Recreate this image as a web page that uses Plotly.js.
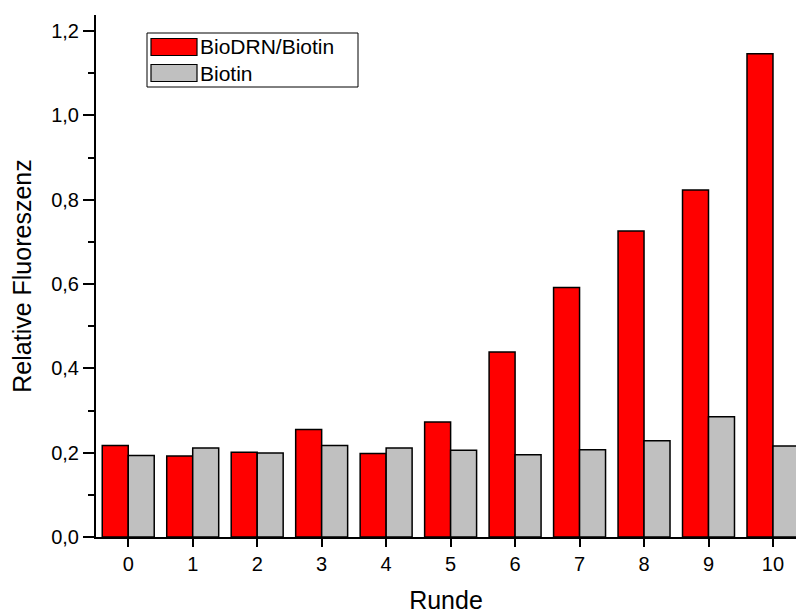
<!DOCTYPE html>
<html>
<head>
<meta charset="utf-8">
<script src="https://cdn.plot.ly/plotly-3.0.1.min.js"></script>
<style>html,body{margin:0;padding:0;background:#fff;}#chart{width:796px;height:614px;}</style>
</head>
<body>
<div id="chart"></div>
<script>
const rounds = [0, 1, 2, 3, 4, 5, 6, 7, 8, 9, 10];
const seriesNames = ["BioDRN/Biotin", "Biotin"];
const bioDRN = [0.217, 0.192, 0.201, 0.255, 0.198, 0.273, 0.439, 0.592, 0.726, 0.823, 1.146];
const biotin = [0.193, 0.211, 0.199, 0.217, 0.211, 0.206, 0.195, 0.207, 0.228, 0.285, 0.216];
const yTicks = [0, 0.2, 0.4, 0.6, 0.8, 1.0, 1.2];

const W = 796, H = 614;
const M = {l: 96, r: 0, t: 15, b: 77};
const pw = W - M.l - M.r, ph = H - M.t - M.b;
const px = x => (x - M.l) / pw;
const py = y => (H - M.b - y) / ph;

const font = "Liberation Sans, Arial, sans-serif";

const traces = [
  {type: 'bar', x: rounds, y: bioDRN, name: seriesNames[0],
   marker: {color: '#FF0000', line: {color: '#000000', width: 1.5}}},
  {type: 'bar', x: rounds, y: biotin, name: seriesNames[1],
   marker: {color: '#C0C0C0', line: {color: '#000000', width: 1.5}}}
];

const shapes = [
  {type: 'rect', xref: 'paper', yref: 'paper', x0: px(147), x1: px(358), y0: py(33), y1: py(87),
   line: {color: '#000', width: 1}, fillcolor: 'rgba(0,0,0,0)'},
  {type: 'rect', xref: 'paper', yref: 'paper', x0: px(151), x1: px(197), y0: py(38.5), y1: py(55.5),
   line: {color: '#000', width: 1.2}, fillcolor: '#FF0000'},
  {type: 'rect', xref: 'paper', yref: 'paper', x0: px(151), x1: px(197), y0: py(64.5), y1: py(81.5),
   line: {color: '#000', width: 1.2}, fillcolor: '#C0C0C0'}
];

const annotations = [
  {xref: 'paper', yref: 'paper', x: px(198), y: py(47), xanchor: 'left', yanchor: 'middle',
   text: seriesNames[0], showarrow: false, font: {family: font, size: 21, color: '#000'}},
  {xref: 'paper', yref: 'paper', x: px(198), y: py(73), xanchor: 'left', yanchor: 'middle',
   text: seriesNames[1], showarrow: false, font: {family: font, size: 21, color: '#000'}}
];

const layout = {
  width: W, height: H,
  margin: M,
  paper_bgcolor: '#fff', plot_bgcolor: '#fff',
  separators: ',.',
  showlegend: false,
  barmode: 'group',
  bargap: 0.194,
  bargroupgap: 0,
  font: {family: font, size: 20, color: '#000'},
  xaxis: {
    range: [-0.5, 10.357],
    tickmode: 'array', tickvals: rounds, ticktext: rounds.map(String),
    ticks: 'outside', ticklen: 8, tickwidth: 2, tickcolor: '#000',
    showline: true, linecolor: '#000', linewidth: 2,
    showgrid: false, zeroline: false,
    tickfont: {family: font, size: 20},
    title: {text: 'Runde', font: {family: font, size: 25}, standoff: 17}
  },
  yaxis: {
    range: [0, 1.238],
    tickmode: 'array', tickvals: yTicks, tickformat: '.1f',
    ticks: 'outside', ticklen: 11, tickwidth: 2, tickcolor: '#000',
    minor: {dtick: 0.1, ticks: 'outside', ticklen: 6, tickwidth: 2, tickcolor: '#000', showgrid: false},
    showline: true, linecolor: '#000', linewidth: 2,
    showgrid: false, zeroline: false,
    tickfont: {family: font, size: 20},
    title: {text: 'Relative Fluoreszenz', font: {family: font, size: 25}, standoff: 12}
  },
  shapes: shapes,
  annotations: annotations
};

Plotly.newPlot('chart', traces, layout, {displayModeBar: false, staticPlot: true});
</script>
</body>
</html>
